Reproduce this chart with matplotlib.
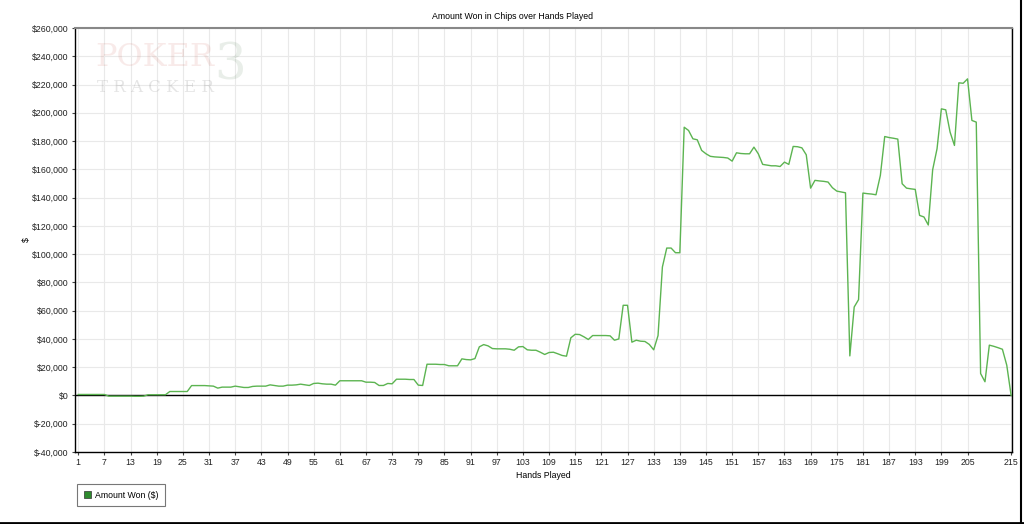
import matplotlib
matplotlib.use("Agg")
from matplotlib import pyplot as plt
from matplotlib.patches import Rectangle
from matplotlib.ticker import FuncFormatter

plt.rcParams["font.family"] = ["Liberation Sans", "DejaVu Sans"]

# cumulative amount won after each hand
hands = list(range(1, 216))
amount_won = [
    700, 700, 700, 700, 700, 700, 700, -500, -500, -500,
    -500, -500, -500, -600, -600, -500, 500, 500, 500, 500,
    500, 2800, 2800, 2800, 2800, 2800, 7000, 7000, 7000, 7000,
    6800, 6600, 5200, 5900, 5900, 5900, 6600, 6100, 5650, 5650,
    6400, 6600, 6600, 6600, 7500, 7070, 6600, 6600, 7300, 7300,
    7500, 8000, 7500, 7070, 8500, 8700, 8250, 8000, 8000, 7300,
    10400, 10400, 10400, 10400, 10400, 10400, 9400, 9400, 9200, 7070,
    7070, 8500, 8250, 11500, 11500, 11500, 11300, 11300, 7300, 7070,
    22100, 22100, 22100, 21900, 21900, 21000, 21000, 21000, 25900, 25400,
    25200, 26100, 34400, 36000, 35100, 33200, 33000, 33000, 33000, 32700,
    32000, 34400, 34600, 32300, 32000, 32000, 30600, 29000, 30400, 30600,
    29500, 28300, 27800, 40800, 43300, 43100, 41500, 39600, 42400, 42400,
    42400, 42400, 42200, 39100, 40000, 63800, 63800, 37700, 39100, 38400,
    38200, 36100, 32300, 42400, 90900, 104300, 104300, 101000, 101000, 189800,
    187500, 181600, 180900, 173400, 171000, 169200, 168800, 168600, 168400, 168000,
    165800, 171700, 171200, 171000, 171000, 175700, 171000, 163500, 163000, 162500,
    162500, 162000, 165100, 163500, 176200, 176000, 175200, 170300, 146700, 152200,
    151800, 151500, 151000, 147000, 144600, 144000, 143400, 28000, 62600, 67800,
    143200, 142800, 142500, 142000, 155700, 183200, 182500, 182000, 181400, 149800,
    146700, 146200, 145800, 127400, 126300, 120600, 159700, 174500, 202800, 202100,
    186300, 176900, 221200, 220900, 224000, 194600, 193400, 15500, 9700, 35600,
    34800, 33800, 32700, 21400, 0,
]

x_ticks = list(range(1, 206, 6)) + [215]
y_ticks = list(range(-40000, 260001, 20000))

fig = plt.figure(figsize=(10.24, 5.24), dpi=100)
ax = fig.add_axes([75 / 1024, 1 - 452 / 524, (1012 - 75) / 1024, (452 - 28) / 524])

ax.plot(hands, amount_won, color="#5cb451", linewidth=1.0, zorder=3,
        label="Amount Won ($)")
ax.axhline(0, color="black", linewidth=1.0, zorder=2)

ax.set_xlim(0.25, 215.2)
ax.set_ylim(-40000, 260000)
ax.set_xticks(x_ticks)
ax.set_yticks(y_ticks)
ax.yaxis.set_major_formatter(FuncFormatter(lambda v, p: "$" + format(int(v), ",")))
ax.tick_params(labelsize=6.3, length=2.5, width=0.8, pad=2, color="#444444",
               labelcolor="#222222")
ax.grid(True, color="#e9e9e9", linewidth=0.8, zorder=0)

for side in ["left", "bottom", "right"]:
    ax.spines[side].set_color("black")
    ax.spines[side].set_linewidth(1.0)
ax.spines["top"].set_color("#888888")
ax.spines["top"].set_linewidth(1.5)

ax.set_xlabel("Hands Played", fontsize=6.3, labelpad=3)
ax.set_ylabel("$", fontsize=6.3)
ax.yaxis.set_label_coords(-0.047, 0.5)
fig.text(0.5, 0.969, "Amount Won in Chips over Hands Played", ha="center",
         va="center", fontsize=6.3)

# watermark
fig.text(95 / 1024, 1 - 58 / 524, "POKER", fontsize=23, family="DejaVu Serif",
         color="#c0392b", alpha=0.1, va="center")
fig.text(97 / 1024, 1 - 87 / 524, "T R A C K E R", fontsize=12, family="DejaVu Serif",
         color="#555555", alpha=0.15, va="center")
fig.text(214 / 1024, 1 - 66 / 524, "3", fontsize=36, family="DejaVu Serif",
         color="#4a7a4a", alpha=0.12, va="center")

leg = fig.legend(loc="upper left", bbox_to_anchor=(73 / 1024, 1 - 480 / 524),
                 fontsize=6.3, frameon=True, fancybox=False, handlelength=0.8,
                 handleheight=0.8, borderpad=0.7, handletextpad=0.5,
                 handles=[Rectangle((0, 0), 1, 1, facecolor="#2e8b2e",
                                    edgecolor="#333333", linewidth=0.5)],
                 labels=["Amount Won ($)"])
leg.get_frame().set_edgecolor("#555555")
leg.get_frame().set_linewidth(0.8)

# dark frame edge on the right and bottom of the image
fig.add_artist(plt.Line2D([0, 1], [1.5 / 524, 1.5 / 524], transform=fig.transFigure,
                          color="black", linewidth=2.0))
fig.add_artist(plt.Line2D([1021 / 1024, 1021 / 1024], [0, 1], transform=fig.transFigure,
                          color="black", linewidth=1.5))

fig.savefig("out.png", dpi=100)
